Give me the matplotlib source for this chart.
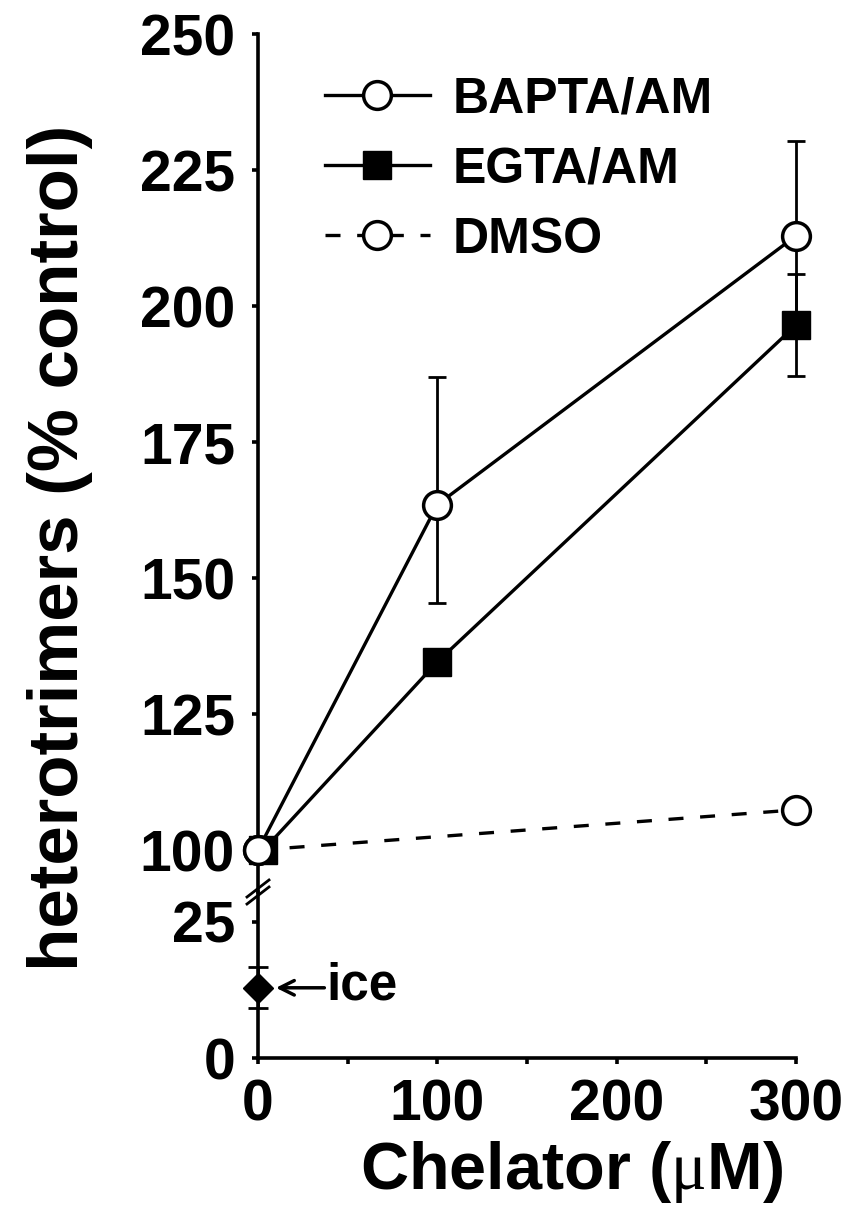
import matplotlib
matplotlib.use('Agg')
import matplotlib.pyplot as plt

plt.rcParams['font.family'] = ['Liberation Sans', 'DejaVu Sans']
plt.rcParams['font.weight'] = 'bold'
plt.rcParams['mathtext.fontset'] = 'custom'
plt.rcParams['mathtext.rm'] = 'Liberation Serif:weight=normal'

# chelator concentration (uM) and heterotrimer levels (% control)
conc = [0, 100, 300]
bapta = [100.0, 163.5, 212.9]
bapta_err_lo = [0, 18.0, 17.5]
bapta_err_hi = [0, 23.5, 17.5]
egta_conc = [3, 100, 300]
egta = [100.0, 134.6, 196.5]
egta_err = [0, 0, 9.3]
dmso_conc = [0, 300]
dmso = [100.0, 107.4]
ice_conc = [0]
ice = [12.9]
ice_err = [3.8]

fig = plt.figure(figsize=(8.5, 12.28), dpi=100)
W, H = 850.0, 1228.0
left = 258 / W
width = (796 - 258) / W
ax_lo = fig.add_axes([left, 1 - 1058 / H, width, (1058 - 892) / H])
ax_hi = fig.add_axes([left, 1 - 892 / H, width, (892 - 34) / H], sharex=ax_lo)

lw = 2.4
ms = 20
line_b, = ax_hi.plot(conc, bapta, '-o', color='k', lw=lw, ms=ms, mfc='white',
                     mec='k', mew=2.5, clip_on=False, zorder=5, label='BAPTA/AM')
line_e, = ax_hi.plot(egta_conc, egta, '-s', color='k', lw=lw, ms=ms, mfc='k',
                     mec='k', mew=1, clip_on=False, zorder=4, label='EGTA/AM')
line_d, = ax_hi.plot(dmso_conc, dmso, '--o', color='k', lw=lw, ms=ms, mfc='white',
                     mec='k', mew=2.5, dashes=(4.5, 5), clip_on=False, zorder=6,
                     label='DMSO')

for x, y, e in [(conc, bapta, [bapta_err_lo, bapta_err_hi]),
                (egta_conc, egta, egta_err)]:
    eb = ax_hi.errorbar(x, y, yerr=e, fmt='none', ecolor='k', elinewidth=2,
                        capsize=6.5, capthick=2, zorder=3)
    for art in eb.get_children():
        art.set_clip_on(False)

eb = ax_lo.errorbar(ice_conc, ice, yerr=ice_err, fmt='D', color='k', ms=15,
                    elinewidth=2, capsize=7, capthick=2, zorder=5)
for art in eb.get_children():
    art.set_clip_on(False)

ax_lo.annotate('', xy=(10, ice[0]), xytext=(37, ice[0]),
               arrowprops=dict(arrowstyle='->', lw=2.5, color='k', mutation_scale=26,
                               shrinkA=0, shrinkB=0))
ax_lo.text(38, ice[0] + 0.3, 'ice', fontsize=37, ha='left', va='center')

# axis limits and ticks
ax_lo.set_xlim(0, 300)
ax_lo.set_ylim(0, 30.5)
ax_hi.set_ylim(92.3, 250)
ax_lo.set_yticks([0, 25])
ax_hi.set_yticks([100, 125, 150, 175, 200, 225, 250])
ax_lo.set_xticks([0, 100, 200, 300])
ax_lo.set_xticks([50, 150, 250], minor=True)

for ax in (ax_lo, ax_hi):
    ax.spines['top'].set_visible(False)
    ax.spines['right'].set_visible(False)
    ax.spines['left'].set_linewidth(2.6)
    ax.spines['bottom'].set_linewidth(2.6)
    ax.tick_params(which='both', direction='out', length=4.5, width=2.6,
                   labelsize=41, pad=12)
    ax.patch.set_visible(False)
ax_hi.spines['bottom'].set_visible(False)
ax_hi.tick_params(axis='x', which='both', bottom=False, labelbottom=False)
ax_lo.tick_params(axis='x', pad=10)

# break marks on the y axis
for off in (3.5, -3.5):
    cy = 1 + off / 166
    ax_lo.plot([-11 / 538, 11 / 538], [cy - 8.5 / 166, cy + 8.5 / 166],
               transform=ax_lo.transAxes, color='k', lw=2, clip_on=False)

ax_hi.legend(handles=[line_b, line_e, line_d], loc='upper left',
             bbox_to_anchor=(0.1245, 0.95), frameon=False, fontsize=36,
             handlelength=2.1, handletextpad=0.45, labelspacing=0.48,
             borderpad=0, borderaxespad=0, numpoints=1)

fig.text(60 / W, 1 - 548 / H, 'heterotrimers (% control)', rotation=90,
         ha='center', va='center', fontsize=51)
fig.text(572 / W, 1 - 1172 / H, r'Chelator ($\mathrm{\mu}$M)', ha='center',
         va='center', fontsize=48)

fig.savefig('out.png', dpi=100)
